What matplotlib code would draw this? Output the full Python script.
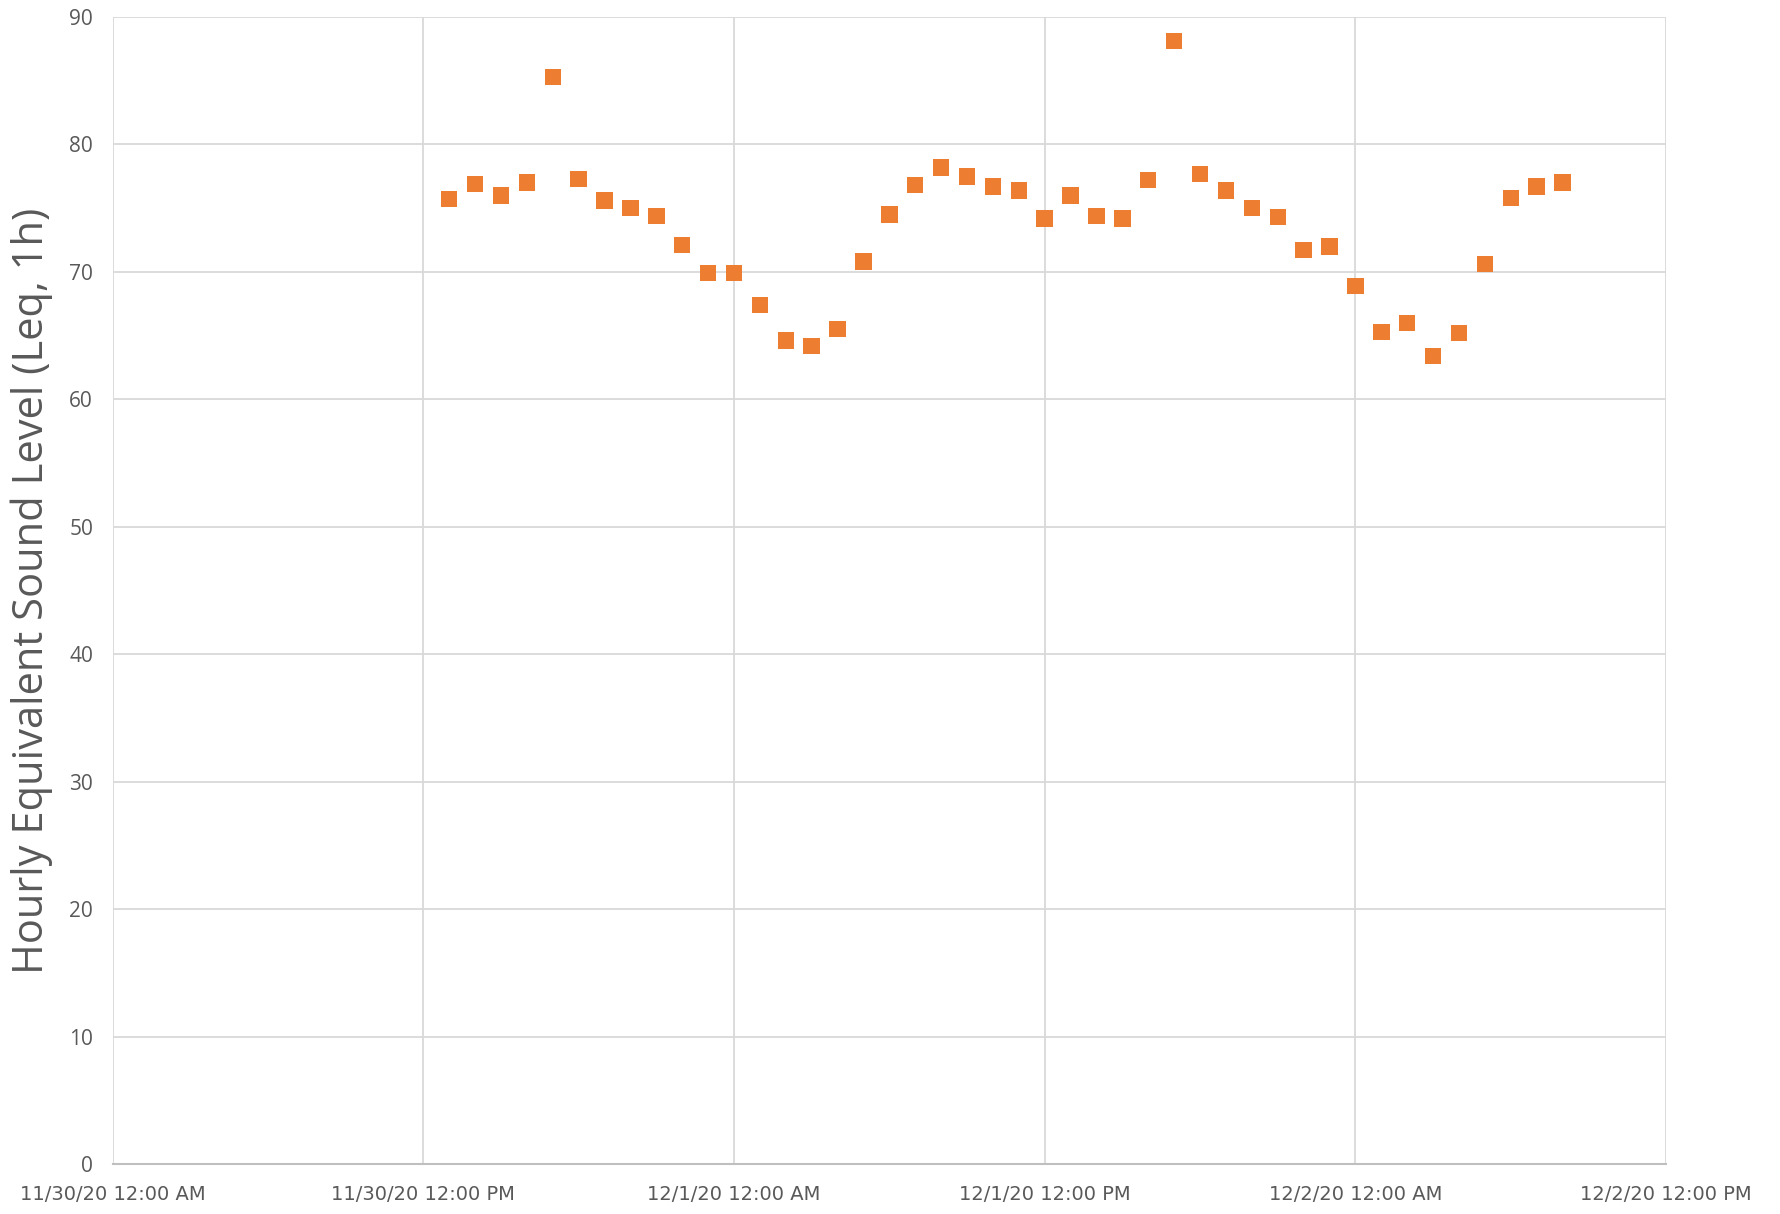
import matplotlib
matplotlib.use("Agg")
import matplotlib.pyplot as plt
import matplotlib.dates as mdates
import pandas as pd

# hourly Leq readings, starting 11/30/20 1:00 PM
start_time = "2020-11-30 13:00"
levels = [75.7, 76.9, 76.0, 77.0, 85.3, 77.3, 75.6, 75.0, 74.4, 72.1, 69.9,
          69.9, 67.4, 64.6, 64.2, 65.5, 70.8, 74.5, 76.8, 78.2, 77.5, 76.7, 76.4,
          74.2, 76.0, 74.4, 74.2, 77.2, 88.1, 77.7, 76.4, 75.0, 74.3, 71.7, 72.0,
          68.9, 65.3, 66.0, 63.4, 65.2, 70.6, 75.8, 76.7, 77.0]
x_ticks = ["2020-11-30 00:00", "2020-11-30 12:00", "2020-12-01 00:00",
           "2020-12-01 12:00", "2020-12-02 00:00", "2020-12-02 12:00"]
y_ticks = list(range(0, 91, 10))
ylabel = "Hourly Equivalent Sound Level (Leq, 1h)"

times = pd.date_range(start_time, periods=len(levels), freq="h")
tick_times = pd.to_datetime(x_ticks)

fig = plt.figure(figsize=(17.81, 12.14), dpi=100)
ax = fig.add_axes([0.0632, 0.0412, 0.8723, 0.9448])

ax.scatter(times, levels, marker="s", s=140, color="#ED7D31", edgecolors="none", zorder=3)

ax.set_xlim(tick_times[0], tick_times[-1])
ax.set_ylim(0, 90)
ax.set_xticks(tick_times)
ax.xaxis.set_major_formatter(
    matplotlib.ticker.FuncFormatter(
        lambda v, p: (lambda d: f"{d.month}/{d.day}/{d.strftime('%y')} 12:00 {d.strftime('%p')}")(mdates.num2date(v))))
ax.set_yticks(y_ticks)

ax.grid(True, color="#D9D9D9", linewidth=1.3)
ax.set_axisbelow(True)
for side in ["top", "right", "left"]:
    ax.spines[side].set_visible(False)
ax.spines["bottom"].set_color("#BFBFBF")
ax.spines["bottom"].set_linewidth(1.5)

ax.tick_params(length=0, colors="#595959")
ax.tick_params(axis="y", labelsize=15, pad=14)
ax.tick_params(axis="x", labelsize=14, pad=15)
for lab in ax.get_xticklabels():
    lab.set_family(["Liberation Sans Narrow", "DejaVu Sans"])
for lab in ax.get_yticklabels():
    lab.set_family(["Open Sans", "DejaVu Sans"])

ax.set_ylabel(ylabel, fontsize=30, color="#595959", family=["Open Sans", "DejaVu Sans"], labelpad=12)

fig.savefig("out.png", dpi=100)
